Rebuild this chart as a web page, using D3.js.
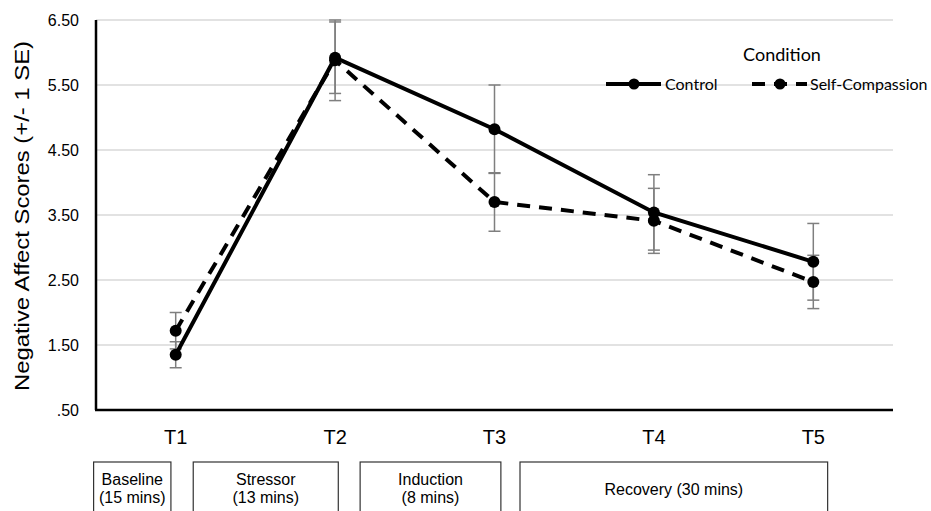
<!DOCTYPE html>
<html>
<head>
<meta charset="utf-8">
<script src="https://cdn.jsdelivr.net/npm/d3@7"></script>
<style>
    body { margin: 0; background: #fff; }
    svg { display: block; }
</style>
</head>
<body>
<script>
// 时间点
const timePoints = ['T1', 'T2', 'T3', 'T4', 'T5'];
// 两组均值
const controlMeans = [1.35, 5.92, 4.82, 3.54, 2.78];
const selfCompMeans = [1.72, 5.88, 3.70, 3.41, 2.47];
// 标准误
const controlSE = [0.20, 0.55, 0.68, 0.58, 0.59];
const selfCompSE = [0.28, 0.62, 0.45, 0.50, 0.41];
// y轴刻度
const yTicks = [0.5, 1.5, 2.5, 3.5, 4.5, 5.5, 6.5];
// 阶段说明 (起止位置以时间点序号计)
const phaseLabels = [['Baseline', '(15 mins)'], ['Stressor', '(13 mins)'], ['Induction', '(8 mins)'], ['Recovery (30 mins)']];
const phaseStart = [-0.515, 0.11, 1.157, 2.16];
const phaseEnd = [-0.03, 1.02, 2.04, 4.09];

const width = 931;
const height = 511;
const padding = {top: 20, right: 38, bottom: 101, left: 96};
const axisFont = '"Liberation Sans", Arial, sans-serif';
const legendFont = 'Lato, "Open Sans", sans-serif';

const svg = d3.select('body')
    .append('svg')
    .attr('width', width)
    .attr('height', height);

const x = d3.scalePoint()
    .domain(timePoints)
    .range([padding.left, width - padding.right])
    .padding(0.5);

const y = d3.scaleLinear()
    .domain([0.5, 6.5])
    .range([height - padding.bottom, padding.top]);

// 序号 -> 像素
const xi = d3.scaleLinear()
    .domain([0, timePoints.length - 1])
    .range([x(timePoints[0]), x(timePoints[timePoints.length - 1])]);

// 网格线
svg.append('g')
    .selectAll('line')
    .data(yTicks)
    .enter()
    .append('line')
    .attr('x1', padding.left)
    .attr('x2', width - padding.right)
    .attr('y1', d => y(d))
    .attr('y2', d => y(d))
    .attr('stroke', '#d9d9d9')
    .attr('stroke-width', 1.5);

// y轴刻度文字
const fmt = d => d3.format('.2f')(d).replace(/^0/, '');
svg.append('g')
    .selectAll('text')
    .data(yTicks)
    .enter()
    .append('text')
    .attr('x', 79)
    .attr('y', d => y(d))
    .attr('dy', '0.35em')
    .attr('text-anchor', 'end')
    .attr('font-family', axisFont)
    .attr('font-size', '16px')
    .attr('fill', '#000')
    .text(fmt);

// x轴刻度文字
svg.append('g')
    .selectAll('text')
    .data(timePoints)
    .enter()
    .append('text')
    .attr('x', d => x(d))
    .attr('y', 444)
    .attr('text-anchor', 'middle')
    .attr('font-family', axisFont)
    .attr('font-size', '20px')
    .attr('fill', '#000')
    .text(d => d);

// y轴标题
svg.append('text')
    .attr('transform', `translate(29, ${(y(0.5) + y(6.5)) / 2 + 1}) rotate(-90)`)
    .attr('text-anchor', 'middle')
    .attr('font-family', axisFont)
    .attr('font-size', '20px')
    .attr('textLength', 350)
    .attr('lengthAdjust', 'spacingAndGlyphs')
    .attr('fill', '#000')
    .text('Negative Affect Scores (+/- 1 SE)');

// 误差线
function drawErrorBars(means, se) {
    const g = svg.append('g')
        .attr('stroke', '#7f7f7f')
        .attr('stroke-width', 1.5);
    means.forEach((m, i) => {
        const cx = x(timePoints[i]);
        const lo = y(m - se[i]);
        const hi = y(m + se[i]);
        g.append('line').attr('x1', cx).attr('x2', cx).attr('y1', lo).attr('y2', hi);
        g.append('line').attr('x1', cx - 6).attr('x2', cx + 6).attr('y1', lo).attr('y2', lo);
        g.append('line').attr('x1', cx - 6).attr('x2', cx + 6).attr('y1', hi).attr('y2', hi);
    });
}
drawErrorBars(controlMeans, controlSE);
drawErrorBars(selfCompMeans, selfCompSE);

// 折线
const line = d3.line()
    .x((d, i) => x(timePoints[i]))
    .y(d => y(d));

function drawSeries(means, dashed) {
    svg.append('path')
        .datum(means)
        .attr('fill', 'none')
        .attr('stroke', '#000')
        .attr('stroke-width', 4)
        .attr('stroke-dasharray', dashed ? '13,9' : null)
        .attr('d', line);
    svg.append('g')
        .selectAll('circle')
        .data(means)
        .enter()
        .append('circle')
        .attr('cx', (d, i) => x(timePoints[i]))
        .attr('cy', d => y(d))
        .attr('r', 6)
        .attr('fill', '#000');
}
drawSeries(selfCompMeans, true);
drawSeries(controlMeans, false);

// 坐标轴线
svg.append('line')
    .attr('x1', padding.left)
    .attr('x2', padding.left)
    .attr('y1', y(6.5))
    .attr('y2', y(0.5))
    .attr('stroke', '#000')
    .attr('stroke-width', 2.5);
svg.append('line')
    .attr('x1', padding.left - 1)
    .attr('x2', width - padding.right)
    .attr('y1', y(0.5))
    .attr('y2', y(0.5))
    .attr('stroke', '#000')
    .attr('stroke-width', 2.5);

// 图例
svg.append('text')
    .attr('x', 782)
    .attr('y', 61)
    .attr('text-anchor', 'middle')
    .attr('font-family', legendFont)
    .attr('font-size', '18px')
    .attr('fill', '#000')
    .text('Condition');

const legendItems = [
    {name: 'Control', x0: 606, dashed: false},
    {name: 'Self-Compassion', x0: 752, dashed: true}
];
legendItems.forEach(item => {
    const ly = 84;
    svg.append('line')
        .attr('x1', item.x0)
        .attr('x2', item.x0 + 55)
        .attr('y1', ly)
        .attr('y2', ly)
        .attr('stroke', '#000')
        .attr('stroke-width', 4)
        .attr('stroke-dasharray', item.dashed ? '13,9' : null);
    svg.append('circle')
        .attr('cx', item.x0 + 28)
        .attr('cy', ly)
        .attr('r', 5.5)
        .attr('fill', '#000');
    svg.append('text')
        .attr('x', item.x0 + (item.dashed ? 58 : 59))
        .attr('y', ly)
        .attr('dy', '0.35em')
        .attr('font-family', legendFont)
        .attr('font-size', '16px')
        .attr('fill', '#000')
        .text(item.name);
});

// 阶段框
const phases = svg.append('g')
    .selectAll('g')
    .data(phaseLabels)
    .enter()
    .append('g');

phases.append('rect')
    .attr('x', (d, i) => xi(phaseStart[i]))
    .attr('y', 462)
    .attr('width', (d, i) => xi(phaseEnd[i]) - xi(phaseStart[i]))
    .attr('height', 60)
    .attr('fill', '#fff')
    .attr('stroke', '#333')
    .attr('stroke-width', 1.2);

phases.each(function (d, i) {
    const cx = (xi(phaseStart[i]) + xi(phaseEnd[i])) / 2;
    const t = d3.select(this)
        .append('text')
        .attr('text-anchor', 'middle')
        .attr('font-family', axisFont)
        .attr('font-size', '16px')
        .attr('fill', '#000');
    const startY = d.length === 1 ? 495 : 485;
    d.forEach((s, k) => {
        t.append('tspan')
            .attr('x', cx)
            .attr('y', startY + k * 18)
            .text(s);
    });
});
</script>
</body>
</html>
